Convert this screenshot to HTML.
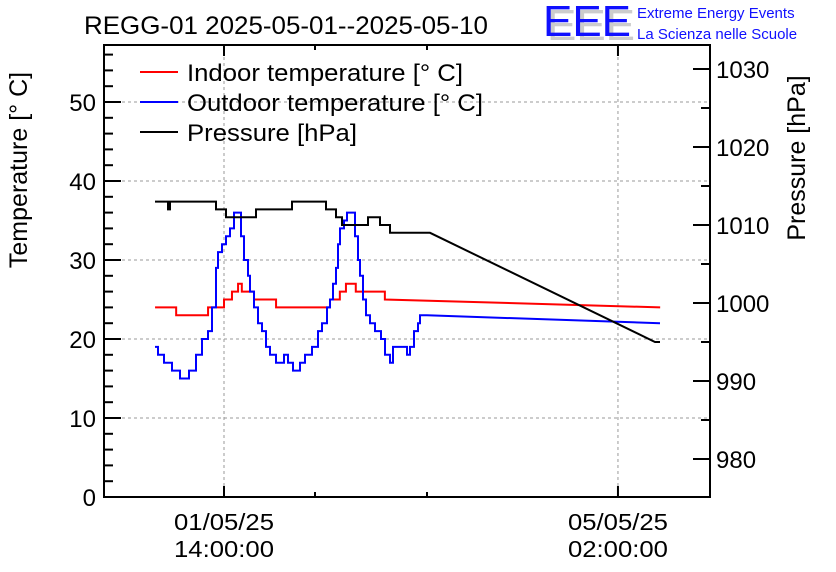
<!DOCTYPE html>
<html><head><meta charset="utf-8"><style>
body{margin:0;background:#fff;width:836px;height:572px;overflow:hidden}
svg{display:block;font-family:"Liberation Sans",sans-serif}
</style></head><body>
<svg id="chart" width="836" height="572" viewBox="0 0 836 572">
<rect x="0" y="0" width="836" height="572" fill="#fff"/>
<text x="84" y="34" font-size="25" fill="#000" textLength="404" lengthAdjust="spacingAndGlyphs">REGG-01 2025-05-01--2025-05-10</text>
<g>
<text x="547" y="40" font-size="44" fill="#ccc" textLength="88" lengthAdjust="spacingAndGlyphs">EEE</text>
<text x="543" y="36" font-size="44" fill="#1010ff" textLength="88" lengthAdjust="spacingAndGlyphs">EEE</text>
<text x="637" y="18" font-size="15" fill="#1010ff">Extreme Energy Events</text>
<text x="637" y="39" font-size="15" fill="#1010ff">La Scienza nelle Scuole</text>
</g>
<g id="grid"></g>
<g id="series"></g>
<g id="axes"></g>
<text transform="translate(27,170) rotate(-90)" text-anchor="middle" font-size="25">Temperature [° C]</text>
<text transform="translate(805,158) rotate(-90)" text-anchor="middle" font-size="25">Pressure [hPa]</text>
<g>
<line x1="140" y1="72" x2="178" y2="72" stroke="#f00" stroke-width="2"/>
<text x="187" y="81" font-size="24" textLength="276" lengthAdjust="spacingAndGlyphs">Indoor temperature [° C]</text>
<line x1="140" y1="102" x2="178" y2="102" stroke="#00f" stroke-width="2"/>
<text x="187" y="111" font-size="24" textLength="296" lengthAdjust="spacingAndGlyphs">Outdoor temperature [° C]</text>
<line x1="140" y1="132" x2="178" y2="132" stroke="#000" stroke-width="2"/>
<text x="187" y="141" font-size="24" textLength="170" lengthAdjust="spacingAndGlyphs">Pressure [hPa]</text>
</g>
</svg>
<script>
// hours since 2025-05-01 00:00
const indoorT=[-0.7,3.8,10.6,14,15.7,17,17.8,20.4,25.1,36.6,38.7,40,42.1,48.3];
const indoorV=[24,23,24,25,26,27,26,25,24,25,26,27,26,25];
const indoorTailT=[48.3,107];
const indoorTailV=[25,24];
const outPx=[155,158,164,172,180,189,196,202,208,212,216,218,222,226,230,234,238,241,244,248,250,254,258,262,266,270,276,284,288,293,300,305,312,318,322,327,330,333,336,338,340,344,347,353,355,358,360,363,366,370,375,381,385,390,393,405,407,410,414,418,420,427];
const outV=[19,18,17,16,15,16,18,20,21,24,29,31,32,33,34,36,36,33,30,28,26,24,22,21,19,18,17,18,17,16,17,18,19,21,22,24,25,27,29,32,34,35,36,36,33,30,28,25,23,22,21,20,18,17,19,19,18,19,21,22,23,23];
const outTailPx=[427,660];
const outTailV=[23,22];
const presPx=[155,167,168,170,216,226,256,292,326,336,342,368,380,390,430];
const presV=[1013,1013,1012,1013,1012,1011,1012,1013,1012,1011,1010,1011,1010,1009,1009];
const presLineT=[(430-224)/4.69+14,(655-224)/4.69+14];
const presLineV=[1009,995];
const tempTicks=[0,10,20,30,40,50];
const presTicks=[980,990,1000,1010,1020,1030];
const timeLabels=[["01/05/25","14:00:00",14],["05/05/25","02:00:00",98]];

const L=104,R=710,T=45,B=497;
const xS=h=>224+(h-14)*4.69;
const pxToH=p=>14+(p-224)/4.69;
const yT=v=>497-v*7.9;
const yP=p=>303-(p-1000)*7.8;
const NS="http://www.w3.org/2000/svg";
function mk(tag,attrs,parent){const e=document.createElementNS(NS,tag);for(const k in attrs)e.setAttribute(k,attrs[k]);parent.appendChild(e);return e;}
const grid=document.getElementById('grid'),ser=document.getElementById('series'),ax=document.getElementById('axes');
tempTicks.forEach(v=>{if(v>0){const g=mk('line',{x1:L,x2:R,y1:yT(v),y2:yT(v),stroke:'#999','stroke-dasharray':'3,3'},grid);

}});
timeLabels.forEach(t=>{const g=mk('line',{x1:xS(t[2]),x2:xS(t[2]),y1:T,y2:B,stroke:'#999','stroke-dasharray':'3,3'},grid);

});
function stepPath(xs,ys){let d='';for(let i=0;i<xs.length;i++){if(i===0)d='M'+xs[0]+','+ys[0];else d+=' H'+xs[i]+' V'+ys[i];}return d;}
const p1=mk('path',{d:stepPath(indoorT.map(xS),indoorV.map(yT))+' L'+xS(indoorTailT[1])+','+yT(indoorTailV[1]),fill:'none',stroke:'#f00','stroke-width':2},ser);


const p2=mk('path',{d:stepPath(outPx.map(pxToH).map(xS),outV.map(yT))+' L'+xS(pxToH(outTailPx[1]))+','+yT(outTailV[1]),fill:'none',stroke:'#00f','stroke-width':2},ser);


const pd=stepPath(presPx.map(pxToH).map(xS),presV.map(yP))+' L'+xS(presLineT[1])+','+yP(presLineV[1])+' H'+(xS(presLineT[1])+5);
const p3=mk('path',{d:pd,fill:'none',stroke:'#000','stroke-width':2},ser);


const fr=mk('rect',{x:L,y:T,width:R-L,height:B-T,fill:'none',stroke:'#000','stroke-width':2},ax);


for(let v=0;v<=56;v+=2){const maj=v%10===0;mk('line',{x1:L,x2:L+(maj?17:9),y1:yT(v),y2:yT(v),stroke:'#000','stroke-width':2},ax);}
tempTicks.forEach(v=>{const t=mk('text',{x:L-8,y:yT(v)+9,'text-anchor':'end','font-size':24},ax);t.textContent=v;

});
for(let p=976;p<=1032;p++){if(p%5)continue;const maj=p%10===0;mk('line',{x1:R,x2:R-(maj?17:9),y1:yP(p),y2:yP(p),stroke:'#000','stroke-width':2},ax);}
presTicks.forEach(v=>{const t=mk('text',{x:R+6,y:yP(v)+9,'font-size':24},ax);t.textContent=v;

});
[14,98].forEach(h=>{mk('line',{x1:xS(h),x2:xS(h),y1:B,y2:B-11,stroke:'#000','stroke-width':2},ax);mk('line',{x1:xS(h),x2:xS(h),y1:T,y2:T+11,stroke:'#000','stroke-width':2},ax);});
[315,427].forEach(p=>{mk('line',{x1:p,x2:p,y1:B,y2:B-5,stroke:'#000','stroke-width':2},ax);mk('line',{x1:p,x2:p,y1:T,y2:T+5,stroke:'#000','stroke-width':2},ax);});
timeLabels.forEach(t=>{const a=mk('text',{x:xS(t[2]),y:530,'text-anchor':'middle','font-size':23,textLength:100,lengthAdjust:'spacingAndGlyphs'},ax);a.textContent=t[0];


const b=mk('text',{x:xS(t[2]),y:557,'text-anchor':'middle','font-size':23,textLength:100,lengthAdjust:'spacingAndGlyphs'},ax);b.textContent=t[1];

});
</script>
</body></html>
